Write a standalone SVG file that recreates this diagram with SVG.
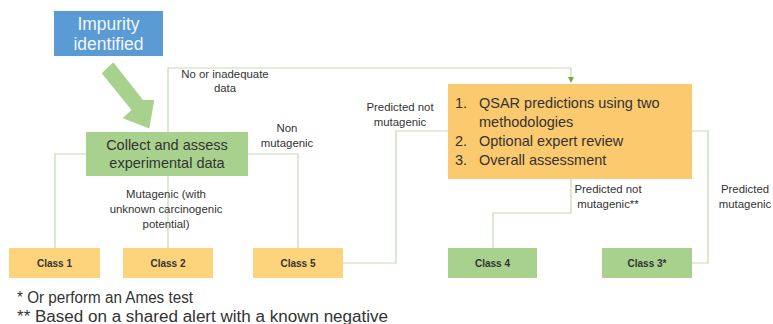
<svg xmlns="http://www.w3.org/2000/svg" width="773" height="324" viewBox="0 0 773 324">
<defs>
<style>
text{font-family:"Liberation Sans",Arial,sans-serif;fill:#333}
.lbl{font-size:11.4px;text-anchor:middle}
.cls{font-size:10px;font-weight:bold;text-anchor:middle}
.big{font-size:14.5px}
.orange{fill:#fdd47c}
.green{fill:#a9d18e}
.conn{fill:none;stroke:#c6d9b4;stroke-width:1.2}
</style>
<marker id="arr" markerWidth="8" markerHeight="8" refX="5" refY="3" orient="auto" markerUnits="userSpaceOnUse">
<path d="M0,0 L6,3 L0,6 Z" fill="#70ad47"/>
</marker>
</defs>
<rect width="773" height="324" fill="#fff"/>
<g id="connectors">
<path class="conn" d="M55,248 V154 H298 V248"/>
<path class="conn" d="M168,248 V68 H571 V82" marker-end="url(#arr)"/>
<path class="conn" d="M343,263 H396 V131 H448"/>
<path class="conn" d="M692,131 H708 V263 H692"/>
<path class="conn" d="M571,179 V213 H493 V248"/>
</g>
<g id="impurity">
<rect x="54" y="11" width="109" height="45" fill="#5a9bd5"/>
<text x="108.5" y="30" style="font-size:17.5px;fill:#f2f6fb;text-anchor:middle">Impurity</text>
<text x="108.5" y="50" style="font-size:17.5px;fill:#f2f6fb;text-anchor:middle">identified</text>
</g>
<g id="big-arrow">
<polygon points="101.7,73.3 113.3,62.3 143,100 154.3,100 149.3,128.5 122.7,118.3 131.5,110" fill="#a9d18e"/>
</g>
<g id="collect">
<rect x="86" y="132" width="162" height="44" class="green"/>
<text x="167" y="150" class="big" text-anchor="middle">Collect and assess</text>
<text x="167" y="168" class="big" text-anchor="middle">experimental data</text>
</g>
<g id="qsar">
<rect x="448" y="84" width="244" height="95" fill="#fbc96e"/>
<text x="455" y="108" class="big">1.</text>
<text x="479" y="108" class="big">QSAR predictions using two</text>
<text x="479" y="127" class="big">methodologies</text>
<text x="455" y="146" class="big">2.</text>
<text x="479" y="146" class="big">Optional expert review</text>
<text x="455" y="165" class="big">3.</text>
<text x="479" y="165" class="big">Overall assessment</text>
</g>
<g id="class1">
<rect x="9" y="248" width="91" height="30" class="orange"/>
<text x="54.5" y="267" class="cls">Class 1</text>
</g>
<g id="class2">
<rect x="123" y="248" width="90" height="30" class="orange"/>
<text x="168" y="267" class="cls">Class 2</text>
</g>
<g id="class5">
<rect x="253" y="248" width="90" height="30" class="orange"/>
<text x="298" y="267" class="cls">Class 5</text>
</g>
<g id="class4">
<rect x="448" y="248" width="89" height="30" class="green"/>
<text x="492.5" y="267" class="cls">Class 4</text>
</g>
<g id="class3">
<rect x="602" y="248" width="90" height="30" class="green"/>
<text x="647" y="267" class="cls">Class 3*</text>
</g>
<g id="labels">
<text x="225" y="77.5" class="lbl">No or inadequate</text>
<text x="225" y="92" class="lbl">data</text>
<text x="287" y="132" class="lbl">Non</text>
<text x="287" y="147" class="lbl">mutagenic</text>
<text x="400" y="111" class="lbl">Predicted not</text>
<text x="400" y="126" class="lbl">mutagenic</text>
<text x="166" y="198" class="lbl">Mutagenic (with</text>
<text x="166" y="213" class="lbl">unknown carcinogenic</text>
<text x="166" y="228" class="lbl">potential)</text>
<text x="608" y="193" class="lbl">Predicted not</text>
<text x="608" y="208" class="lbl">mutagenic**</text>
<text x="745" y="193" class="lbl">Predicted</text>
<text x="745" y="208" class="lbl">mutagenic</text>
</g>
<g id="footnotes">
<text x="17" y="303" style="font-size:16px" textLength="176" lengthAdjust="spacingAndGlyphs">* Or perform an Ames test</text>
<text x="17" y="322" style="font-size:16px" textLength="371" lengthAdjust="spacingAndGlyphs">** Based on a shared alert with a known negative</text>
</g>
</svg>
